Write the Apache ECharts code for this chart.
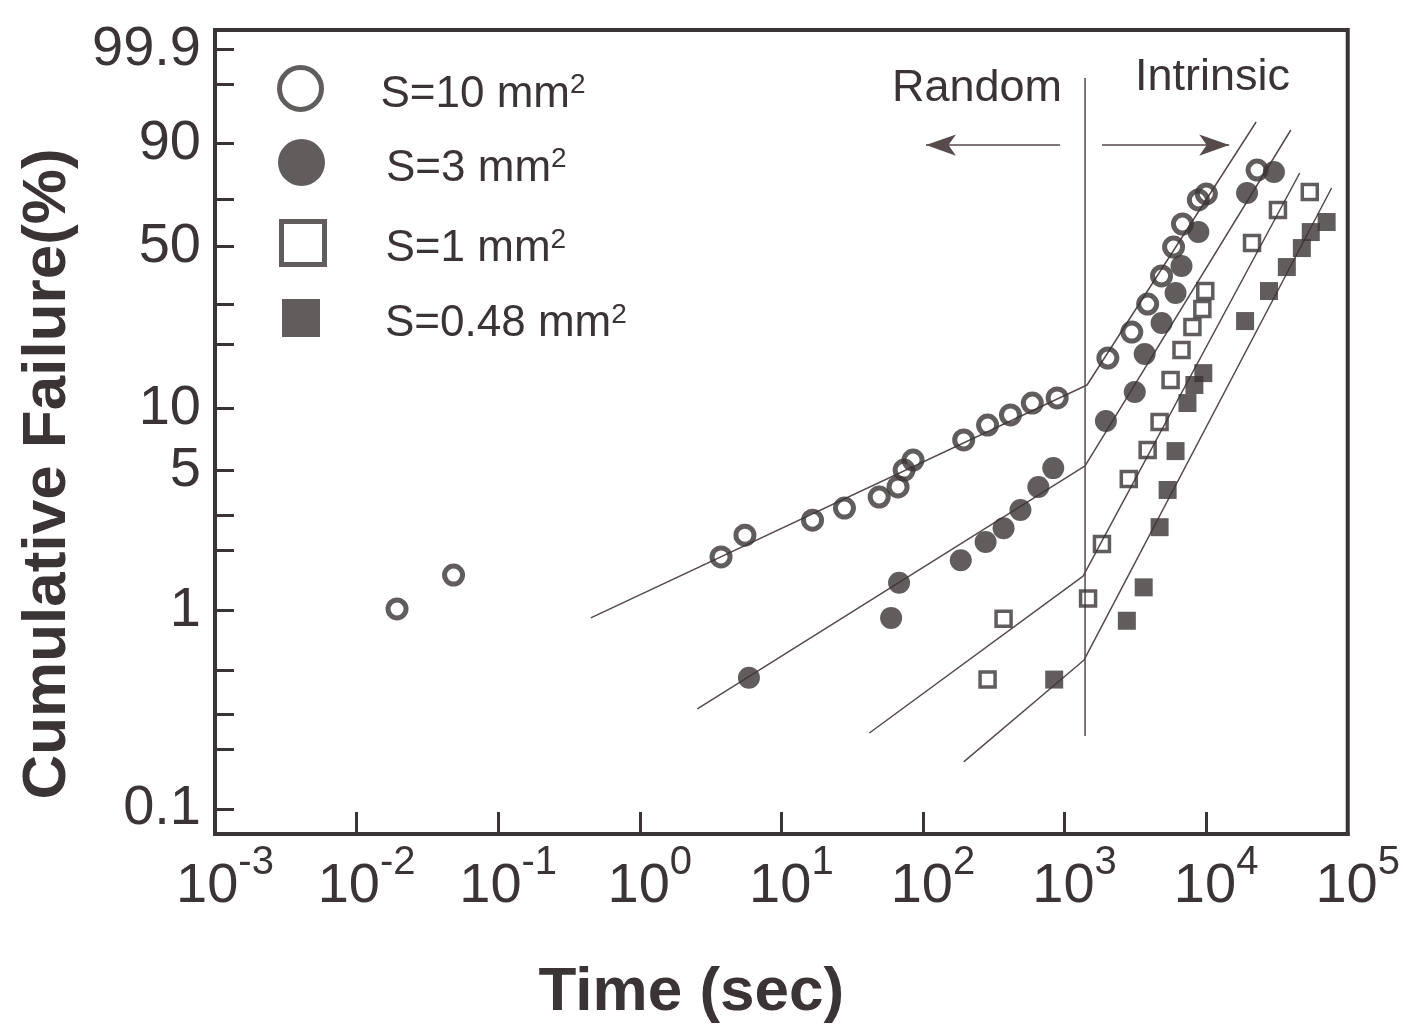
<!DOCTYPE html>
<html>
<head>
<meta charset="utf-8">
<script src="https://cdn.jsdelivr.net/npm/echarts@6/dist/echarts.min.js"></script>
<style>html,body{margin:0;padding:0;background:#ffffff}#c{width:1403px;height:1034px}</style>
</head>
<body>
<div id="c"></div>
<script>
// ---------- data (time in seconds, cumulative failure in %) ----------
const legendLabels = ['S=10 mm', 'S=3 mm', 'S=1 mm', 'S=0.48 mm'];
const legendSup = '2';
const regionLabels = ['Random', 'Intrinsic'];

const timeS10 = [0.0193, 0.0484, 3.75, 5.53, 16.6, 27.9, 49.1, 66.7, 73.6, 85.1, 194, 286, 415, 592, 887, 2023, 2985, 3864, 4842, 5888, 6808, 8810, 10030, 22900];
const failS10 = [1.02, 1.51, 1.86, 2.39, 2.84, 3.26, 3.70, 4.15, 5.03, 5.63, 7.06, 8.34, 9.33, 10.64, 11.25, 17.30, 22.65, 29.95, 38.93, 49.88, 59.46, 69.69, 72.20, 81.58];

const timeS3 = [5.90, 59.6, 67.8, 185, 277, 371, 488, 653, 832, 1959, 3133, 3681, 4842, 6081, 6699, 8810, 19450, 30130];
const failS3 = [0.46, 0.92, 1.38, 1.79, 2.21, 2.59, 3.19, 4.15, 5.14, 8.72, 12.00, 18.04, 24.83, 33.27, 42.52, 56.04, 72.59, 80.83];

const timeS1 = [286, 371, 1466, 1837, 2843, 3864, 4691, 5610, 6699, 8000, 9400, 9860, 21090, 32140, 53950];
const failS1 = [0.45, 0.91, 1.15, 2.16, 4.54, 6.31, 8.62, 13.67, 18.82, 23.84, 28.53, 33.90, 51.52, 65.42, 73.02];

const timeS048 = [845, 2754, 3622, 4691, 5346, 6081, 7380, 8260, 9550, 18840, 27800, 37150, 47420, 54830, 70960];
const failS048 = [0.45, 0.89, 1.31, 2.62, 4.01, 6.23, 10.64, 12.96, 14.73, 25.32, 33.90, 42.14, 49.46, 56.04, 60.31];

// fitted (bilinear) Weibull lines: start, knee, end
const fitTimeS10 = [0.451, 1442, 22540];
const fitFailS10 = [0.92, 12.96, 94.80];
const fitTimeS3 = [2.55, 1396, 39630];
const fitFailS3 = [0.32, 5.27, 93.24];
const fitTimeS1 = [41.8, 1352, 45810];
const fitFailS1 = [0.242, 1.49, 80.48];
const fitTimeS048 = [194, 1374, 76910];
const fitFailS048 = [0.173, 0.565, 74.64];

// Random / Intrinsic divider and arrows
const dividerTime = [1396, 1396];
const dividerFail = [0.234, 99.28];
const arrowFail = 89.57;
const randomArrowTime = [931, 105];
const intrinsicArrowTime = [1837, 14550];

// axes
const xExponents = [-3, -2, -1, 0, 1, 2, 3, 4, 5];
const yTickValues = [0.1, 0.2, 0.3, 0.5, 1, 2, 3, 5, 10, 20, 30, 50, 70, 90, 99, 99.9];
const yLabelValues = [0.1, 1, 5, 10, 50, 90, 99.9];
const yRangePct = [0.0748, 99.982];

// ---------- helpers ----------
const toW = p => Math.log(-Math.log(1 - p / 100));   // Weibull probability scale
const toX = t => Math.log10(t);                        // log time scale
const pairs = (ts, ps) => ts.map((t, i) => [toX(t), toW(ps[i])]);

const DARK = '#3b3435';
const LINE = '#574a4b';
const FONT = '"Liberation Sans", Arial, Helvetica, sans-serif';

const chart = echarts.init(document.getElementById('c'), null, {renderer: 'canvas'});

const names = legendLabels.map(l => l + '\u00b2');

function legendCfg(i, left, top, size, icon, style, spacer) {
  return {
    left: left, top: top, padding: 0,
    orient: 'vertical', selectedMode: false,
    itemWidth: size, itemHeight: size,
    data: [{name: names[i], icon: icon, itemStyle: style}],
    formatter: () => '{sp| }{b|' + legendLabels[i] + '}{s|' + legendSup + '}',
    textStyle: {
      color: DARK, fontFamily: FONT,
      rich: {
        sp: {width: spacer, fontSize: 10},
        b: {fontSize: 44, fontFamily: FONT, color: DARK, padding: [12, 0, 0, 0], verticalAlign: 'middle'},
        s: {fontSize: 28, fontFamily: FONT, color: DARK, padding: [0, 0, 6, 0], verticalAlign: 'middle'}
      }
    }
  };
}

const hollow = {color: 'rgba(0,0,0,0)', borderColor: DARK, borderWidth: 5};
const solid = {color: DARK, borderWidth: 0};

const fitStyle = {color: LINE, width: 1.5};
function fitSeries(ts, ps) {
  return {type: 'line', data: pairs(ts, ps), symbol: 'none', silent: true,
          lineStyle: fitStyle, z: 2, animation: false};
}

const option = {
  animation: false,
  backgroundColor: '#ffffff',
  grid: {left: 215, right: 49, top: 30, bottom: 200, show: true,
         borderColor: DARK, borderWidth: 4, backgroundColor: 'rgba(0,0,0,0)'},
  xAxis: {
    type: 'value', min: xExponents[0], max: xExponents[xExponents.length - 1], interval: 1,
    name: 'Time (sec)', nameLocation: 'middle', nameGap: 128,
    nameTextStyle: {fontSize: 62, fontWeight: 'bold', color: DARK, fontFamily: FONT, padding: [0, 180, 0, 0]},
    axisLine: {onZero: false, lineStyle: {color: DARK, width: 4}},
    axisTick: {inside: true, length: 22, lineStyle: {color: DARK, width: 3}},
    splitLine: {show: false},
    axisLabel: {
      margin: 9, showMinLabel: true, showMaxLabel: true,
      formatter: v => '{sp| }{b|10}{s|' + Math.round(v) + '}',
      rich: {
        sp: {width: 20, fontSize: 10},
        b: {fontSize: 56, fontFamily: FONT, color: DARK, verticalAlign: 'middle'},
        s: {fontSize: 40, fontFamily: FONT, color: DARK, padding: [0, 0, 48, 0], verticalAlign: 'middle'}
      }
    }
  },
  yAxis: {
    type: 'value', min: toW(yRangePct[0]), max: toW(yRangePct[1]),
    name: 'Cumulative Failure(%)', nameLocation: 'middle', nameRotate: 90, nameGap: 136,
    nameTextStyle: {fontSize: 62, fontWeight: 'bold', color: DARK, fontFamily: FONT, padding: [0, 84, 0, 0]},
    axisLine: {onZero: false, lineStyle: {color: DARK, width: 4}},
    axisTick: {inside: true, length: 19, lineStyle: {color: DARK, width: 3},
               customValues: yTickValues.map(toW)},
    splitLine: {show: false},
    axisLabel: {
      margin: 14, fontSize: 56, fontFamily: FONT, color: DARK,
      customValues: yLabelValues.map(toW),
      formatter: v => {
        let best = yLabelValues[0], d = Infinity;
        yLabelValues.forEach(p => { const e = Math.abs(toW(p) - v); if (e < d) { d = e; best = p; } });
        return String(best);
      }
    }
  },
  legend: [
    legendCfg(0, 277, 65, 42, 'circle', hollow, 54),
    legendCfg(1, 278, 139, 47, 'circle', solid, 56),
    legendCfg(2, 279, 219, 43, 'rect', hollow, 56),
    legendCfg(3, 282, 299, 38, 'rect', solid, 60)
  ],
  graphic: [
    {type: 'text', left: 892, top: 66, silent: true,
     style: {text: regionLabels[0], fontSize: 45, fontFamily: FONT, fill: DARK}},
    {type: 'text', left: 1135, top: 55, silent: true,
     style: {text: regionLabels[1], fontSize: 45, fontFamily: FONT, fill: DARK}}
  ],
  series: [
    fitSeries(fitTimeS10, fitFailS10),
    fitSeries(fitTimeS3, fitFailS3),
    fitSeries(fitTimeS1, fitFailS1),
    fitSeries(fitTimeS048, fitFailS048),
    {
      type: 'line', data: pairs(dividerTime, dividerFail), symbol: 'none', silent: true,
      lineStyle: fitStyle, z: 2,
      markLine: {
        silent: true, symbol: ['none', 'arrow'], symbolSize: [16, 30],
        label: {show: false}, emphasis: {disabled: true},
        lineStyle: {color: LINE, width: 1.5, type: 'solid'},
        data: [
          [{coord: [toX(randomArrowTime[0]), toW(arrowFail)]}, {coord: [toX(randomArrowTime[1]), toW(arrowFail)]}],
          [{coord: [toX(intrinsicArrowTime[0]), toW(arrowFail)]}, {coord: [toX(intrinsicArrowTime[1]), toW(arrowFail)]}]
        ]
      }
    },
    {name: names[0], type: 'scatter', data: pairs(timeS10, failS10), symbol: 'circle', symbolSize: 18,
     itemStyle: {color: 'rgba(0,0,0,0)', borderColor: DARK, borderWidth: 5}, z: 4},
    {name: names[1], type: 'scatter', data: pairs(timeS3, failS3), symbol: 'circle', symbolSize: 22,
     itemStyle: {color: DARK}, z: 3},
    {name: names[2], type: 'scatter', data: pairs(timeS1, failS1), symbol: 'rect', symbolSize: 15,
     itemStyle: {color: 'rgba(0,0,0,0)', borderColor: DARK, borderWidth: 3.5}, z: 4},
    {name: names[3], type: 'scatter', data: pairs(timeS048, failS048), symbol: 'rect', symbolSize: 18,
     itemStyle: {color: DARK}, z: 3}
  ]
};

chart.setOption(option);
</script>
</body>
</html>
